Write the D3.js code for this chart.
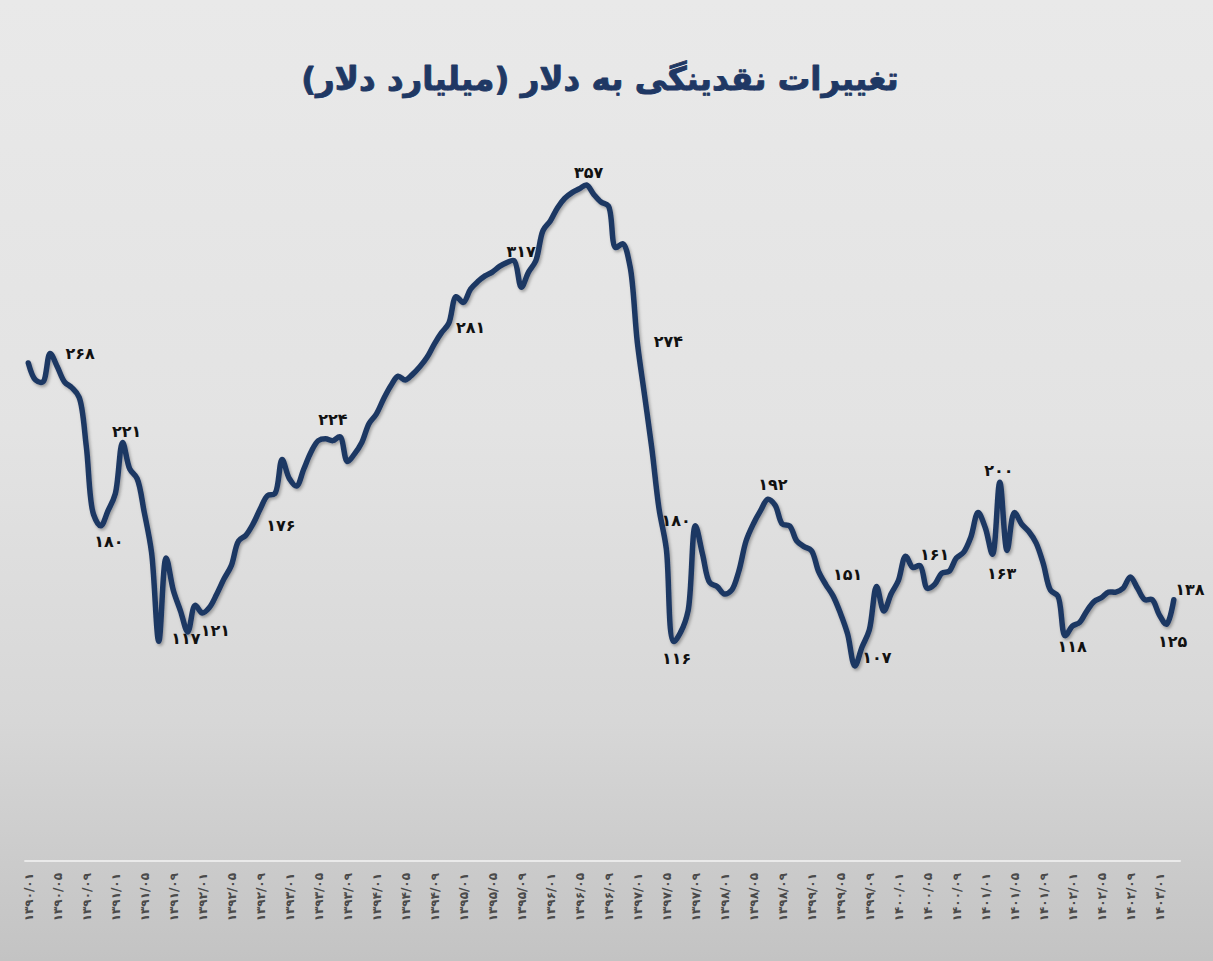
<!DOCTYPE html>
<html>
<head>
<meta charset="utf-8">
<script src="https://cdn.jsdelivr.net/npm/d3@7"></script>
<style>
  html, body { margin: 0; padding: 0; overflow: hidden; }
  svg { display: block; }
</style>
</head>
<body>
<div id="chart"></div>
<script>
// ---------------- DATA ----------------
const title = "تغییرات نقدینگی به دلار (میلیارد دلار)";

// Monthly liquidity in billion dollars, 1390/01 .. 1403/03 (159 months)
const values = [
  263,254,253,268,261,253,250,245,219,183,177,185,194,221,207,202,184,163,116,160,
  143,132,121,135,131,134,141,149,156,169,172,178,186,193,194,212,202,198,207,216,
  222,223,222,224,211,215,221,231,236,244,251,256,254,257,261,266,273,279,284,298,
  295,302,306,309,311,314,316,317,303,311,317,333,338,345,350,353,355,357,352,348,
  346,324,326,314,274,246,218,186,165,116,121,132,177,162,147,145,141,143,153,169,
  178,185,191,188,178,177,169,166,164,153,146,140,131,120,103,113,122,145,132,141,
  148,161,155,156,144,146,152,153,160,163,171,184,176,162,200,164,184,178,174,168,
  157,143,140,119,124,126,132,137,139,142,142,144,150,144,138,138,130,125,138
];

// Tick labels shown every 4 months
const tickLabels = [
  "۱۳۹۰/۰۱","۱۳۹۰/۰۵","۱۳۹۰/۰۹","۱۳۹۱/۰۱","۱۳۹۱/۰۵","۱۳۹۱/۰۹","۱۳۹۲/۰۱","۱۳۹۲/۰۵",
  "۱۳۹۲/۰۹","۱۳۹۳/۰۱","۱۳۹۳/۰۵","۱۳۹۳/۰۹","۱۳۹۴/۰۱","۱۳۹۴/۰۵","۱۳۹۴/۰۹","۱۳۹۵/۰۱",
  "۱۳۹۵/۰۵","۱۳۹۵/۰۹","۱۳۹۶/۰۱","۱۳۹۶/۰۵","۱۳۹۶/۰۹","۱۳۹۷/۰۱","۱۳۹۷/۰۵","۱۳۹۷/۰۹",
  "۱۳۹۸/۰۱","۱۳۹۸/۰۵","۱۳۹۸/۰۹","۱۳۹۹/۰۱","۱۳۹۹/۰۵","۱۳۹۹/۰۹","۱۴۰۰/۰۱","۱۴۰۰/۰۵",
  "۱۴۰۰/۰۹","۱۴۰۱/۰۱","۱۴۰۱/۰۵","۱۴۰۱/۰۹","۱۴۰۲/۰۱","۱۴۰۲/۰۵","۱۴۰۲/۰۹","۱۴۰۳/۰۱"
];

// Annotated points: month index and label text
const labelIdx  = [3,13,10,22,24,34,42,57,67,77,84,87,89,102,109,114,121,134,133,143,157,158];
const labelText = ["۲۶۸","۲۲۱","۱۸۰","۱۱۷","۱۲۱","۱۷۶","۲۲۴","۲۸۱","۳۱۷","۳۵۷","۲۷۴","۱۸۰",
                   "۱۱۶","۱۹۲","۱۵۱","۱۰۷","۱۶۱","۲۰۰","۱۶۳","۱۱۸","۱۲۵","۱۳۸"];

// ---------------- STYLE / LAYOUT ----------------
const W = 1213, H = 961;
const labelOffsets = [[30,0],[4,-11],[8,16],[-2,7],[13,18],[6,32],[0,-21],[29,-5],[7,-9],[2,-13],
                      [31,-1],[17,12],[3,17],[5,-15],[29,3],[22,-8],[29,-2],[-1,-12],[9,19],[7,11],
                      [6,17],[16,-10]];

const months = d3.range(values.length);
const tickIdx = tickLabels.map((d, i) => i * 4);

const svg = d3.select("#chart").append("svg")
  .attr("width", W).attr("height", H);

const defs = svg.append("defs");
const grad = defs.append("linearGradient").attr("id", "bg")
  .attr("x1", 0).attr("y1", 0).attr("x2", 0).attr("y2", 1);
[["0%","#e9e9e9"],["45%","#e3e3e3"],["75%","#d7d7d7"],["100%","#c3c3c3"]]
  .forEach(([o,c]) => grad.append("stop").attr("offset", o).attr("stop-color", c));

const shadow = defs.append("filter").attr("id", "sh")
  .attr("x", "-5%").attr("y", "-5%").attr("width", "110%").attr("height", "110%");
shadow.append("feDropShadow").attr("dx", 1.5).attr("dy", 2).attr("stdDeviation", 1.5)
  .attr("flood-color", "#000").attr("flood-opacity", 0.3);

svg.append("rect").attr("width", W).attr("height", H).attr("fill", "url(#bg)");

const x = d3.scalePoint().domain(months).range([28.3, 1173.8]);
const y = d3.scaleLinear().domain([0, 357]).range([861, 185]);

// Title
svg.append("text")
  .attr("x", 600).attr("y", 90)
  .attr("text-anchor", "middle")
  .attr("direction", "rtl")
  .style("font-family", "'DejaVu Sans', sans-serif")
  .style("font-weight", "bold")
  .style("font-size", "32.5px")
  .attr("fill", "#1f3864")
  .attr("stroke", "#1f3864")
  .attr("stroke-width", 0.9)
  .attr("stroke-linejoin", "round")
  .text(title);

// X axis
const axis = d3.axisBottom(x)
  .tickValues(tickIdx)
  .tickSize(0)
  .tickFormat((d, i) => tickLabels[i]);

const gx = svg.append("g").attr("transform", `translate(0,${y(0)})`).call(axis);
gx.select(".domain").remove();
gx.selectAll("text")
  .attr("transform", "translate(0,12) rotate(-90)")
  .attr("x", 0).attr("y", 0).attr("dy", "0.35em")
  .attr("text-anchor", "end")
  .style("font-family", "'DejaVu Sans', sans-serif")
  .style("font-weight", "bold")
  .style("font-size", "12px")
  .attr("fill", "#4a4a4a");

svg.append("line")
  .attr("x1", x(0) - 4).attr("x2", x(values.length - 1) + 7)
  .attr("y1", y(0)).attr("y2", y(0))
  .attr("stroke", "#f4f4f4").attr("stroke-width", 1.5);

// Line
const line = d3.line()
  .x((d, i) => x(i))
  .y(d => y(d))
  .curve(d3.curveCatmullRom.alpha(0.5));

svg.append("path")
  .datum(values)
  .attr("d", line)
  .attr("fill", "none")
  .attr("stroke", "#1f3864")
  .attr("stroke-width", 5.5)
  .attr("stroke-linejoin", "round")
  .attr("stroke-linecap", "round")
  .attr("filter", "url(#sh)");

// Data labels
svg.append("g").selectAll("text")
  .data(labelIdx)
  .join("text")
  .attr("x", (d, i) => x(d) + labelOffsets[i][0])
  .attr("y", (d, i) => y(values[d]) + labelOffsets[i][1])
  .attr("text-anchor", "middle")
  .attr("dominant-baseline", "central")
  .style("font-family", "'DejaVu Sans', sans-serif")
  .style("font-weight", "bold")
  .style("font-size", "16px")
  .attr("fill", "#111")
  .text((d, i) => labelText[i]);
</script>
</body>
</html>
